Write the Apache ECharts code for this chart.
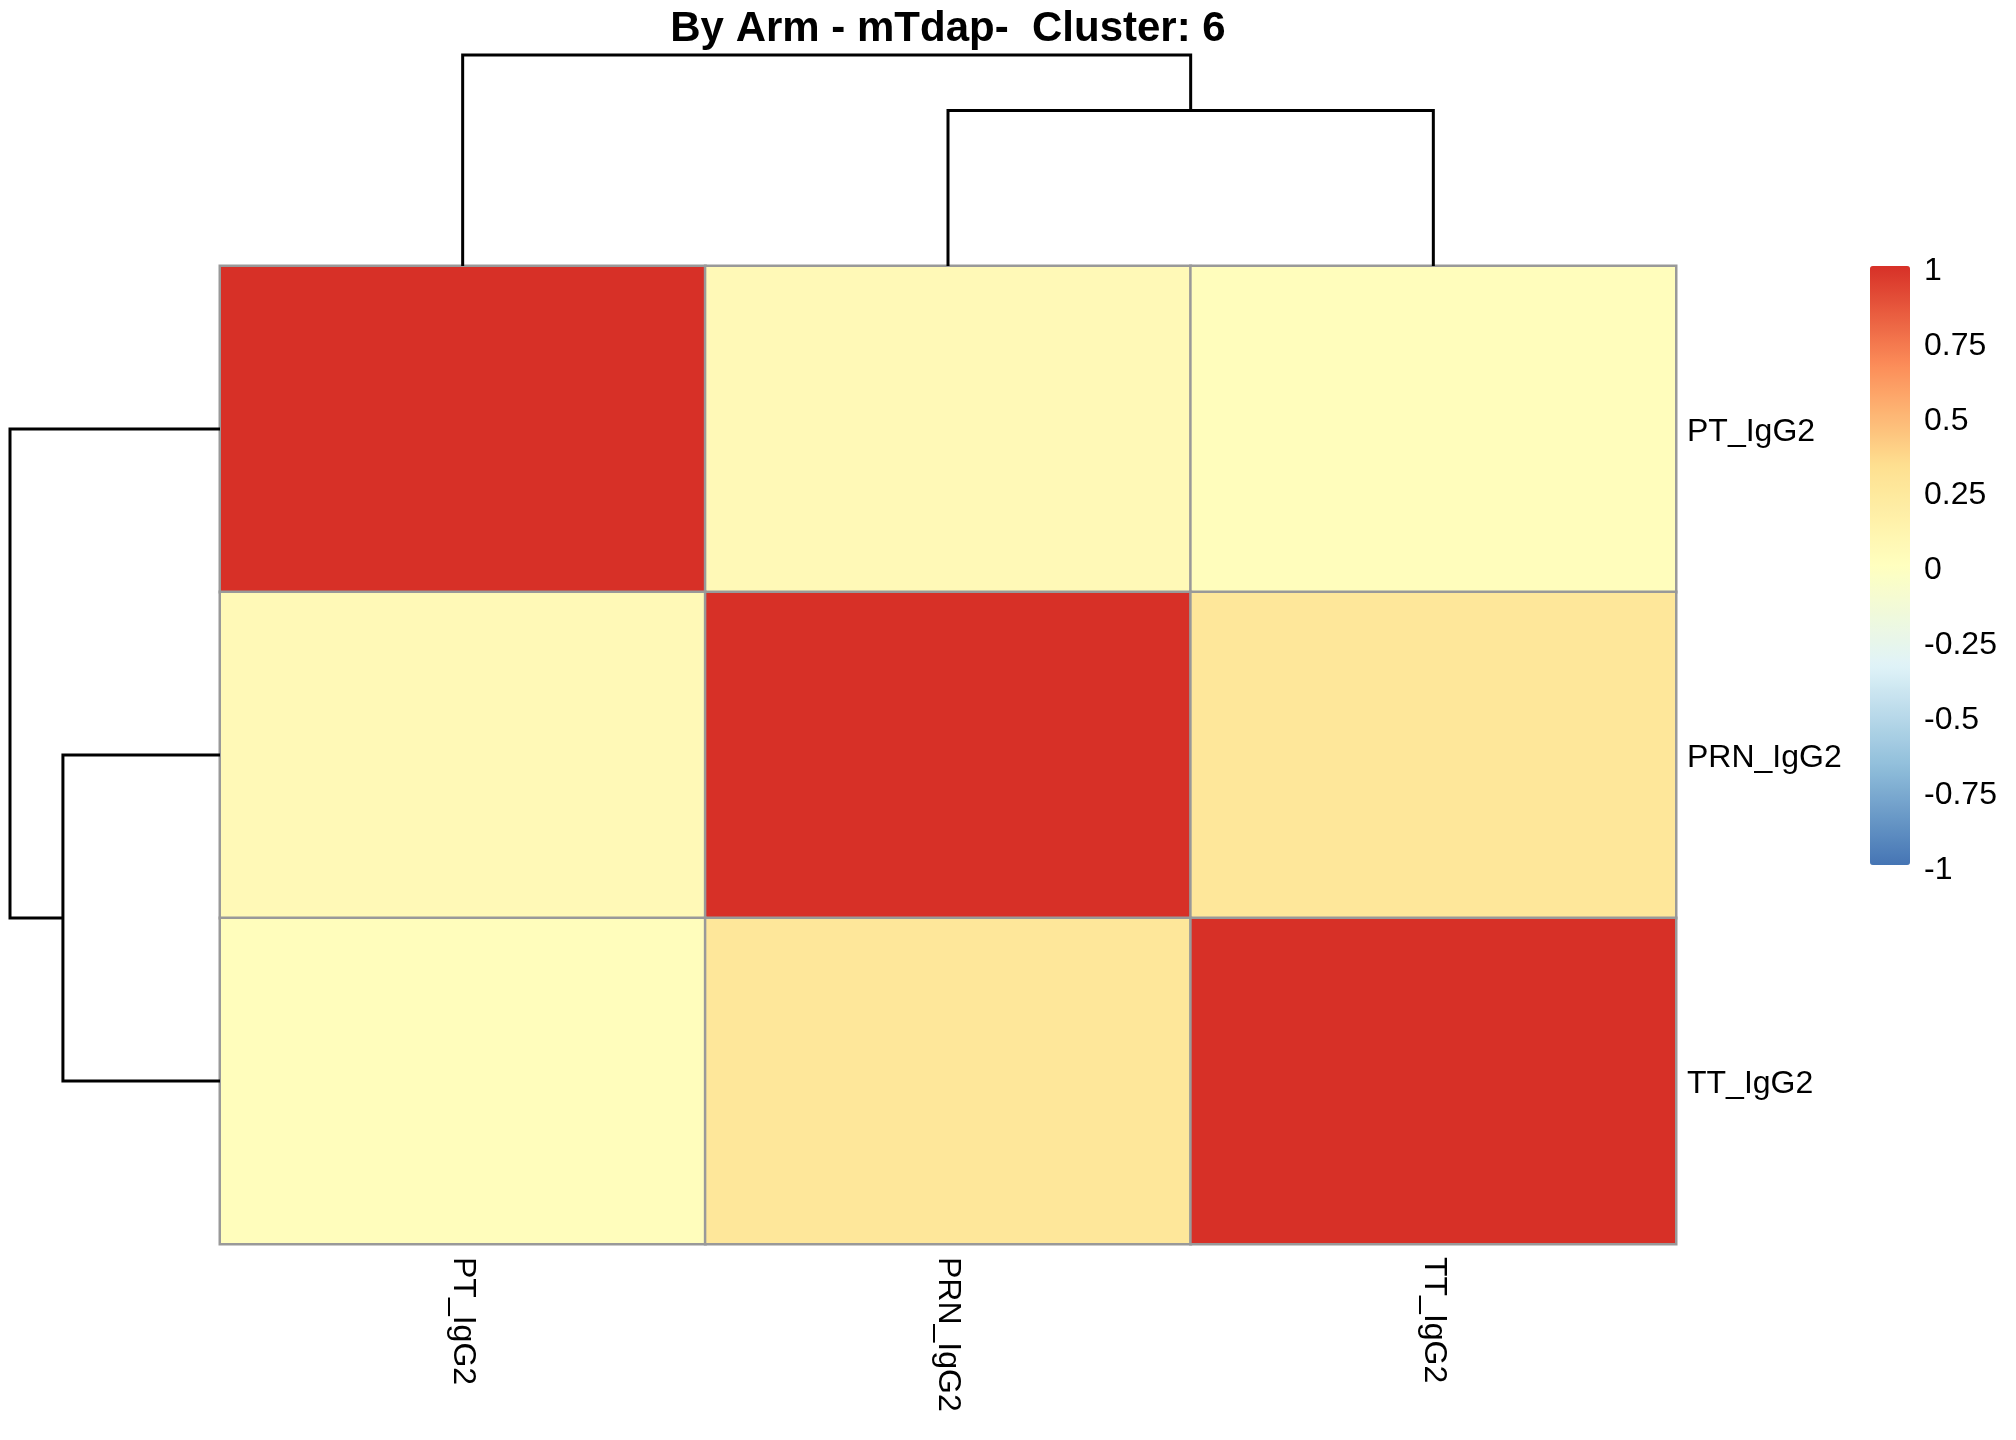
<!DOCTYPE html>
<html>
<head>
<meta charset="utf-8">
<script src="https://cdn.jsdelivr.net/npm/echarts@6/dist/echarts.min.js"></script>
<style>
html,body{margin:0;padding:0;background:#fff;}
#chart{width:2016px;height:1440px;}
</style>
</head>
<body>
<div id="chart"></div>
<script>
// ---- data ----
const titleText = 'By Arm - mTdap-  Cluster: 6';
const colLabels = ['PT_IgG2', 'PRN_IgG2', 'TT_IgG2'];
const rowLabels = ['PT_IgG2', 'PRN_IgG2', 'TT_IgG2'];
const rowPT  = [1.00, 0.06, 0.02];
const rowPRN = [0.06, 1.00, 0.26];
const rowTT  = [0.02, 0.26, 1.00];
// hclust-style merges (negative = leaf, 1-based; positive = earlier merge)
const colMerges = [[-2, -3], [-1, 1]];
const colMergeHeights = [0.737, 1.0];
const rowMerges = [[-2, -3], [-1, 1]];
const rowMergeHeights = [0.748, 1.0];
const legendTicks = [-1, -0.75, -0.5, -0.25, 0, 0.25, 0.5, 0.75, 1];
const paletteColors = ['#4575B4', '#91BFDB', '#E0F3F8', '#FFFFBF', '#FEE090', '#FC8D59', '#D73027'];

// ---- build ----
const matrix = [rowPT, rowPRN, rowTT];
const heatData = [];
matrix.forEach((row, r) => row.forEach((v, c) => heatData.push([c, r, v])));

function treeSegments(merges, heights, leafOrder) {
  const nodes = [];
  const pos = (id) => id < 0 ? {p: leafOrder.indexOf(-id - 1), h: 0} : nodes[id - 1];
  const segs = [];
  merges.forEach((m, i) => {
    const a = pos(m[0]), b = pos(m[1]);
    segs.push([a.p, a.h, b.p, b.h, heights[i]]);
    nodes.push({p: (a.p + b.p) / 2, h: heights[i]});
  });
  return segs;
}
const colSegs = treeSegments(colMerges, colMergeHeights, [0, 1, 2]);
const rowSegs = treeSegments(rowMerges, rowMergeHeights, [0, 1, 2]);

const FONT = '"Liberation Sans", Arial, Helvetica, sans-serif';
const L = 220, R = 1676, T = 266, B = 1244;

function dendroRender(horizontal) {
  return function (params, api) {
    const p = (pos, h) => horizontal ? api.coord([h, pos]) : api.coord([pos, h]);
    const pts = [
      p(api.value(0), api.value(1)),
      p(api.value(0), api.value(4)),
      p(api.value(2), api.value(4)),
      p(api.value(2), api.value(3))
    ];
    return {
      type: 'polyline',
      shape: {points: pts},
      style: {stroke: '#000', lineWidth: 3, fill: null, lineJoin: 'miter'}
    };
  };
}

const chart = echarts.init(document.getElementById('chart'));
chart.setOption({
  backgroundColor: '#ffffff',
  animation: false,
  title: {
    text: titleText,
    left: (L + R) / 2,
    top: 8,
    padding: 0,
    textAlign: 'center',
    textStyle: {fontFamily: FONT, fontWeight: 'bold', fontSize: 42, color: '#000', lineHeight: 42}
  },
  grid: [
    {left: L, top: T, width: R - L, height: B - T},                 // heatmap
    {left: L, top: 55, width: R - L, height: T - 55},               // column dendrogram
    {left: 10, top: T, width: L - 10, height: B - T},               // row dendrogram
    {left: 1870, top: T + 5, width: 40, height: 599}                // legend ticks
  ],
  xAxis: [
    {
      type: 'category', gridIndex: 0, data: colLabels, position: 'bottom',
      axisLine: {show: false}, axisTick: {show: false}, splitLine: {show: false},
      axisLabel: {rotate: -90, margin: 13, fontSize: 32, color: '#000', fontFamily: FONT}
    },
    {type: 'value', gridIndex: 1, min: -0.5, max: 2.5, show: false},
    {type: 'value', gridIndex: 2, min: 0, max: 1, inverse: true, show: false},
    {type: 'value', gridIndex: 3, min: 0, max: 1, show: false}
  ],
  yAxis: [
    {
      type: 'category', gridIndex: 0, data: rowLabels, inverse: true, position: 'right',
      axisLine: {show: false}, axisTick: {show: false}, splitLine: {show: false},
      axisLabel: {
        margin: 11, color: '#000',
        formatter: (v) => '{a|' + v + '}',
        rich: {a: {fontSize: 32, color: '#000', fontFamily: FONT, padding: [6, 0, 0, 0]}}
      }
    },
    {type: 'value', gridIndex: 1, min: 0, max: 1, show: false},
    {type: 'value', gridIndex: 2, min: -0.5, max: 2.5, inverse: true, show: false},
    {
      type: 'value', gridIndex: 3, min: -1, max: 1, interval: 0.25, position: 'right',
      axisLine: {show: false}, axisTick: {show: false}, splitLine: {show: false},
      axisLabel: {
        margin: 14, fontSize: 32, color: '#000', fontFamily: FONT,
        customValues: legendTicks,
        formatter: (v) => String(Math.round(v * 100) / 100)
      }
    }
  ],
  visualMap: {
    type: 'continuous',
    seriesIndex: 0,
    min: -1, max: 1,
    calculable: false,
    orient: 'vertical',
    left: 1870, top: T,
    padding: 0,
    itemWidth: 40, itemHeight: 599,
    text: null,
    showLabel: false,
    inRange: {color: paletteColors}
  },
  series: [
    {
      type: 'heatmap', xAxisIndex: 0, yAxisIndex: 0, data: heatData,
      itemStyle: {borderColor: '#999999', borderWidth: 2.5},
      label: {show: false}, emphasis: {disabled: true}
    },
    {
      type: 'custom', xAxisIndex: 1, yAxisIndex: 1, data: colSegs,
      renderItem: dendroRender(false), silent: true
    },
    {
      type: 'custom', xAxisIndex: 2, yAxisIndex: 2, data: rowSegs,
      renderItem: dendroRender(true), silent: true
    }
  ]
});
</script>
</body>
</html>
